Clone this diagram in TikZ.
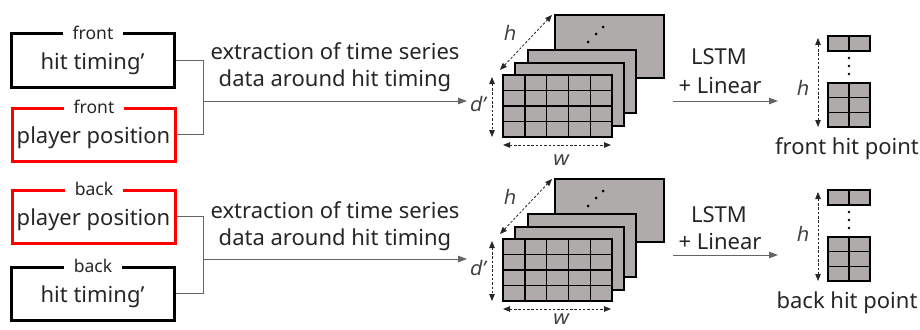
\documentclass[tikz,border=0pt]{standalone}
\usepackage{fontspec}
\setmainfont{Noto Sans}
\newfontfamily\slantfont[FakeSlant=0.2]{Noto Sans}
\usetikzlibrary{arrows.meta}
\definecolor{cellgray}{RGB}{175,171,171}
\definecolor{txt}{RGB}{38,38,38}
\definecolor{conncol}{RGB}{100,100,100}
\definecolor{boxred}{RGB}{255,0,0}
\tikzset{
  inbox/.style={draw=black, line width=3pt, minimum width=163pt, minimum height=53pt, inner sep=0pt},
  redbox/.style={inbox, draw=boxred},
  bigtxt/.style={font=\fontsize{22}{27}\selectfont, text=txt, inner sep=0pt},
  smalltxt/.style={font=\fontsize{17.5}{20}\selectfont, text=txt, fill=white, inner xsep=10pt, inner ysep=1pt},
  mathlbl/.style={font=\fontsize{20}{24}\slantfont, text=black!75, inner sep=0pt},
  conn/.style={draw=conncol, line width=1pt},
  arr/.style={conn, -{Triangle[length=9pt,width=6.5pt]}, shorten >=0pt},
  dimarr/.style={draw=black!85, line width=0.8pt, dash pattern=on 2.5pt off 1.8pt, {Triangle[length=7pt,width=5.5pt]}-{Triangle[length=7pt,width=5.5pt]}},
  sheet/.style={draw=black, fill=cellgray, line width=1.6pt},
  cell/.style={draw=black, fill=cellgray, line width=1.4pt},
  dotf/.style={fill=black, draw=none},
}
\newcommand\mystack[1]{%
\begin{scope}[shift={(0,#1)}]
  \path[sheet] (555,15) rectangle (664,78);
  \fill[dotf] (588,42) circle (1.5pt) (596,34) circle (1.5pt) (603,27) circle (1.5pt);
  \path[sheet] (528,50) rectangle (636,113);
  \path[sheet] (515,63) rectangle (624,126);
  \path[cell] (503,75) rectangle (612,137);
  \foreach \xx in {524.8,546.6,568.4,590.2} \draw[black, line width=1.4pt] (\xx,75) -- (\xx,137);
  \foreach \yy in {90.5,106,121.5} \draw[black, line width=1.4pt] (503,\yy) -- (612,\yy);
\end{scope}}
\newcommand\myoutcol[1]{%
\begin{scope}[shift={(0,#1)}]
  \path[cell] (828,36) rectangle (870,51);
  \draw[black, line width=1.4pt] (849,36) -- (849,51);
  \fill[dotf] (849,58) circle (1.3pt) (849,66) circle (1.3pt) (849,74) circle (1.3pt);
  \path[cell] (828,83) rectangle (870,127);
  \draw[black, line width=1.4pt] (849,83) -- (849,127) (828,97.7) -- (870,97.7) (828,112.3) -- (870,112.3);
\end{scope}}
\begin{document}
\begin{tikzpicture}[x=1pt,y=-1pt]
\useasboundingbox (0,0) rectangle (920,329);

% ---------- left boxes ----------
\node[inbox] (b1) at (92.5,60.5) {};
\node[redbox] (b2) at (93.5,134.5) {};
\node[redbox] (b3) at (93.5,216.5) {};
\node[inbox] (b4) at (92.5,293.5) {};

\node[bigtxt] (t1) at (92.5,64) {hit timing’};
\node[bigtxt] (t2) at (93.5,138) {player position};
\node[bigtxt] (t3) at (93.5,220) {player position};
\node[bigtxt] (t4) at (92.5,297) {hit timing’};

\node[smalltxt] (l1) at (93,33) {front};
\node[smalltxt] (l2) at (94,107) {front};
\node[smalltxt] (l3) at (94,189) {back};
\node[smalltxt] (l4) at (93,266) {back};

% ---------- connectors ----------
\coordinate (jt) at (203,101);
\coordinate (et) at (467,101);
\coordinate (jb) at (203,259);
\coordinate (eb) at (467,259);
\draw[conn] (b1.east) -| (jt);
\draw[conn] (b2.east) -| (jt);
\draw[arr] (jt) -- (et);
\draw[conn] (b3.east) -| (jb);
\draw[conn] (b4.east) -| (jb);
\draw[arr] (jb) -- (eb);

\node[bigtxt, align=center] (x1) at (335,67) {extraction of time series\\data around hit timing};
\node[bigtxt, align=center] (x2) at (335,226) {extraction of time series\\data around hit timing};

% ---------- stacks ----------
\mystack{0}
\mystack{164}

\coordinate (ht1) at (500,70); \coordinate (ht2) at (552,15);
\draw[dimarr] (ht1) -- (ht2);
\node[mathlbl] (hl1) at (509,33) {h};
\coordinate (dt1) at (492,77); \coordinate (dt2) at (492,137);
\draw[dimarr] (dt1) -- (dt2);
\node[mathlbl] (dl1) at (477,104) {d’};
\coordinate (wt1) at (503,145); \coordinate (wt2) at (611,145);
\draw[dimarr] (wt1) -- (wt2);
\node[mathlbl] (wl1) at (560,160) {w};

\coordinate (hb1) at (500,234); \coordinate (hb2) at (552,179);
\draw[dimarr] (hb1) -- (hb2);
\node[mathlbl] (hl2) at (509,197) {h};
\coordinate (db1) at (492,241); \coordinate (db2) at (492,301);
\draw[dimarr] (db1) -- (db2);
\node[mathlbl] (dl2) at (477,268) {d’};
\coordinate (wb1) at (503,309); \coordinate (wb2) at (611,309);
\draw[dimarr] (wb1) -- (wb2);
\node[mathlbl] (wl2) at (560,319) {w};

% ---------- LSTM ----------
\node[bigtxt] (ls1) at (719,57) {LSTM};
\node[bigtxt] (li1) at (720,86) {+ Linear};
\coordinate (ls1a) at (673,101); \coordinate (ls1b) at (778,101);
\draw[arr] (ls1a) -- (ls1b);

\node[bigtxt] (ls2) at (719,215) {LSTM};
\node[bigtxt] (li2) at (720,242) {+ Linear};
\coordinate (ls2a) at (673,255); \coordinate (ls2b) at (778,255);
\draw[arr] (ls2a) -- (ls2b);

% ---------- outputs ----------
\myoutcol{0}
\myoutcol{154}

\coordinate (oh1) at (818,38); \coordinate (oh2) at (818,127);
\draw[dimarr] (oh1) -- (oh2);
\node[mathlbl] (ohl1) at (802,88) {h};
\node[bigtxt] (fo) at (847,149) {front hit point};

\coordinate (oh3) at (818,192); \coordinate (oh4) at (818,281);
\draw[dimarr] (oh3) -- (oh4);
\node[mathlbl] (ohl2) at (802,234) {h};
\node[bigtxt] (bo) at (847,303) {back hit point};
\end{tikzpicture}
\end{document}
